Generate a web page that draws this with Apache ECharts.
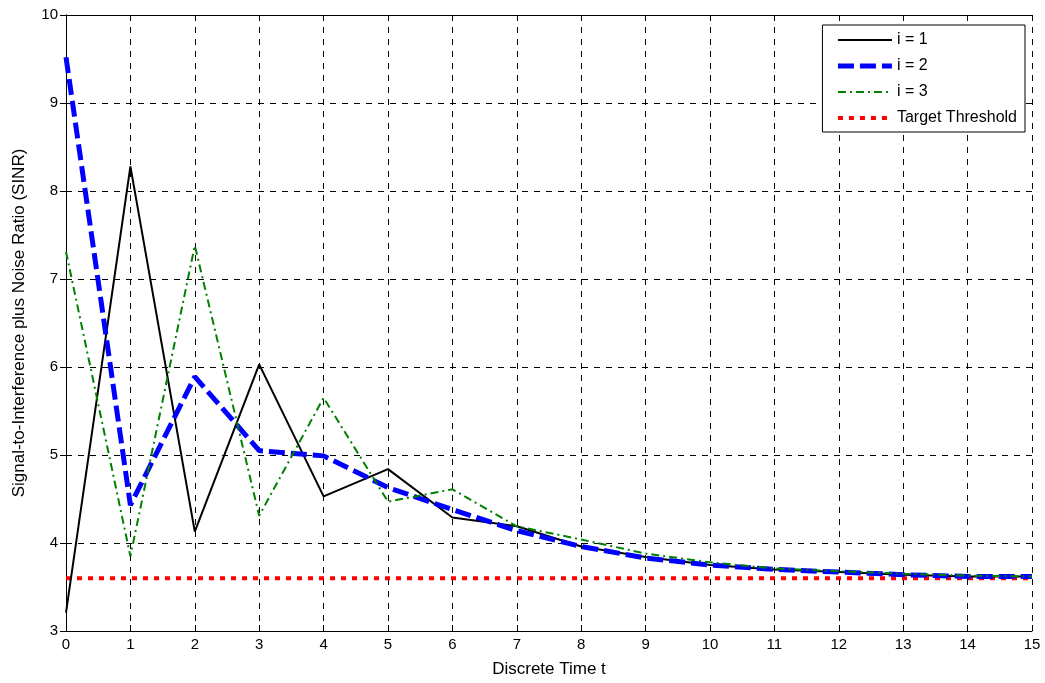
<!DOCTYPE html>
<html>
<head>
<meta charset="utf-8">
<script src="https://cdn.jsdelivr.net/npm/echarts@6/dist/echarts.min.js"></script>
<style>
  html, body { margin: 0; padding: 0; background: #fff; }
  #main { width: 1045px; height: 683px; }
</style>
</head>
<body>
<div id="main"></div>
<script>
const times = [0, 1, 2, 3, 4, 5, 6, 7, 8, 9, 10, 11, 12, 13, 14, 15]
const sinr1 = [3.21, 8.28, 4.13, 6.03, 4.53, 4.84, 4.29, 4.19, 3.96, 3.84, 3.75, 3.70, 3.67, 3.64, 3.62, 3.62]
const sinr2 = [9.52, 4.43, 5.89, 5.05, 4.99, 4.63, 4.38, 4.14, 3.96, 3.83, 3.75, 3.70, 3.67, 3.64, 3.62, 3.62]
const sinr3 = [7.31, 3.85, 7.38, 4.31, 5.65, 4.47, 4.61, 4.19, 4.04, 3.88, 3.78, 3.71, 3.68, 3.65, 3.63, 3.62]
const threshold = 3.6
const seriesNames = ["i = 1", "i = 2", "i = 3", "Target Threshold"]

const font = "Liberation Sans, Arial, sans-serif"
const pairs = ys => times.map((t, k) => [t, ys[k]])

// line looks, shared by series and legend
const styles = [
  { color: "#000", width: 2, type: "solid" },
  { color: "#0000ff", width: 5, type: [16, 6] },
  { color: "#008000", width: 2, type: [8, 4, 2, 4] },
  { color: "#ff0000", width: 4, type: [5, 6] }
]

const myChart = echarts.init(document.getElementById("main"))

// top / right box edges with inward ticks
const tickAxis = {
  axisLine: { show: true, lineStyle: { color: "#000", width: 1 } },
  axisTick: { show: true, inside: true, length: 6, lineStyle: { color: "#000" } },
  axisLabel: { show: false },
  splitLine: { show: false }
}

const makeSeries = (k, ys, z) => ({
  name: seriesNames[k],
  type: "line",
  data: pairs(ys),
  symbol: "none",
  z: z,
  lineStyle: styles[k],
  itemStyle: { color: styles[k].color }
})

myChart.setOption({
  animation: false,
  backgroundColor: "#fff",
  textStyle: { fontFamily: font },
  grid: { left: 66, right: 13, top: 15, bottom: 51, containLabel: false },
  legend: {
    orient: "vertical",
    right: 20,
    top: 25,
    backgroundColor: "#fff",
    borderColor: "#000",
    borderWidth: 1,
    padding: [7, 8, 6, 13],
    itemWidth: 54,
    itemHeight: 14,
    itemGap: 10,
    textStyle: { fontSize: 16, color: "#000", fontFamily: font },
    data: seriesNames.map((n, k) => ({
      name: n,
      itemStyle: { opacity: 0 },
      lineStyle: Object.assign({}, styles[k])
    }))
  },
  xAxis: [
    {
      type: "value",
      min: 0,
      max: 15,
      interval: 1,
      name: "Discrete Time t",
      nameLocation: "middle",
      nameGap: 30,
      nameTextStyle: { fontSize: 17, color: "#000", fontFamily: font },
      axisLine: { show: true, lineStyle: { color: "#000", width: 1 } },
      axisTick: { show: true, inside: true, length: 6, lineStyle: { color: "#000" } },
      axisLabel: { color: "#000", fontSize: 15, margin: 6, fontFamily: font },
      splitLine: { show: true, lineStyle: { color: "#000", type: [6, 6], width: 1 } }
    },
    Object.assign({ type: "value", position: "top", min: 0, max: 15, interval: 1 }, tickAxis)
  ],
  yAxis: [
    {
      type: "value",
      min: 3,
      max: 10,
      interval: 1,
      name: "Signal-to-Interference plus Noise Ratio (SINR)",
      nameLocation: "middle",
      nameGap: 38,
      nameTextStyle: { fontSize: 17, color: "#000", fontFamily: font },
      axisLine: { show: true, lineStyle: { color: "#000", width: 1 } },
      axisTick: { show: true, inside: true, length: 6, lineStyle: { color: "#000" } },
      axisLabel: { color: "#000", fontSize: 15, margin: 8, fontFamily: font },
      splitLine: { show: true, lineStyle: { color: "#000", type: [6, 6], width: 1 } }
    },
    Object.assign({ type: "value", position: "right", min: 3, max: 10, interval: 1 }, tickAxis)
  ],
  series: [
    makeSeries(0, sinr1, 3),
    makeSeries(1, sinr2, 4),
    makeSeries(2, sinr3, 5),
    makeSeries(3, times.map(() => threshold), 2)
  ]
})
</script>
</body>
</html>
